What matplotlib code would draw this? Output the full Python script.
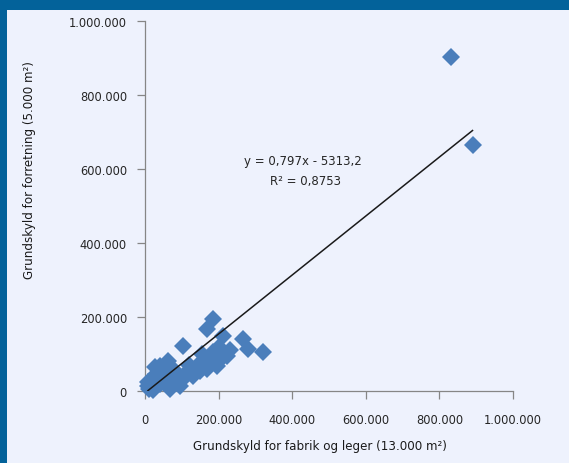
import matplotlib
matplotlib.use("Agg")
import matplotlib.pyplot as plt
from matplotlib.patches import Rectangle
from matplotlib.ticker import FuncFormatter
import numpy as np

# Grundskyld (kr.) for fabrik/lager vs. forretning, one point per kommune
fabrik = [831000, 890000, 185000, 168000, 103000, 266000, 280000, 321000,
          212000, 223000, 185000, 196000, 168000, 141000, 114000, 87000,
          60000, 41000, 33000, 8000, 95000, 68000, 22000, 27000, 62000,
          155000, 200000, 230000, 175000, 130000, 100000, 50000, 40000,
          15000, 10000, 30000, 75000, 120000, 150000, 210000, 9000, 20000,
          45000, 80000, 160000]
forretning = [903000, 665000, 195000, 168000, 122000, 140000, 113000, 105000,
              149000, 95000, 105000, 68000, 59000, 68000, 51000, 41000,
              51000, 68000, 24000, 14000, 14000, 5000, 2000, 65000, 81000,
              100000, 120000, 110000, 80000, 40000, 30000, 30000, 20000,
              30000, 5000, 45000, 60000, 70000, 55000, 90000, 25000, 10000,
              40000, 25000, 75000]

slope = 0.797
intercept = -5313.2

x_ticks = [0, 200000, 400000, 600000, 800000, 1000000]
y_ticks = [0, 200000, 400000, 600000, 800000, 1000000]

BG = "#eef2fd"
FRAME = "#03629a"
MARKER = "#4a7ebb"
TXT = "#262626"

fig = plt.figure(figsize=(5.69, 4.64), dpi=100, facecolor=BG)

# frame bands (top and left)
fig.patches.append(Rectangle((0, 1 - 11 / 464), 1, 11 / 464, transform=fig.transFigure,
                             facecolor=FRAME, edgecolor="none", zorder=0))
fig.patches.append(Rectangle((0, 0), 7 / 569, 1, transform=fig.transFigure,
                             facecolor=FRAME, edgecolor="none", zorder=0))

ax = fig.add_axes([145 / 569, 1 - 392 / 464, 368 / 569, 370 / 464])
ax.set_facecolor("none")
ax.set_xlim(0, 1000000)
ax.set_ylim(0, 1000000)

ax.plot(fabrik, forretning, linestyle="none", marker="D", markersize=9.4,
        markerfacecolor=MARKER, markeredgewidth=0, clip_on=False, zorder=3)

# linear trend line over the data range
xs = np.array([min(fabrik), max(fabrik)])
ax.plot(xs, slope * xs + intercept, color="#1a1a1a", linewidth=1.1, zorder=4)

fig.text(303 / 569, 1 - 162 / 464, "y = 0,797x - 5313,2", fontsize=8.5,
         color=TXT, ha="center", va="center")
fig.text(305 / 569, 1 - 182 / 464, "R² = 0,8753", fontsize=8.5,
         color=TXT, ha="center", va="center")

fmt = FuncFormatter(lambda v, p: f"{int(v):,}".replace(",", "."))
ax.set_xticks(x_ticks)
ax.set_yticks(y_ticks)
ax.xaxis.set_major_formatter(fmt)
ax.yaxis.set_major_formatter(fmt)
ax.tick_params(axis="both", direction="out", length=6, width=0.9, color="#868686",
               labelsize=8.3, labelcolor=TXT)
ax.tick_params(axis="x", pad=10)
ax.tick_params(axis="y", pad=7)

for s in ["top", "right"]:
    ax.spines[s].set_visible(False)
for s in ["left", "bottom"]:
    ax.spines[s].set_color("#868686")
    ax.spines[s].set_linewidth(0.9)

fig.text(320 / 569, 1 - 447 / 464, "Grundskyld for fabrik og leger (13.000 m²)",
         fontsize=8.6, color="#1a1a1a", ha="center", va="center")
fig.text(30 / 569, 1 - 170 / 464, "Grundskyld for forretning (5.000 m²)",
         fontsize=8.6, color="#1a1a1a", ha="center", va="center", rotation=90)

fig.savefig("out.png", dpi=100, facecolor=BG)
